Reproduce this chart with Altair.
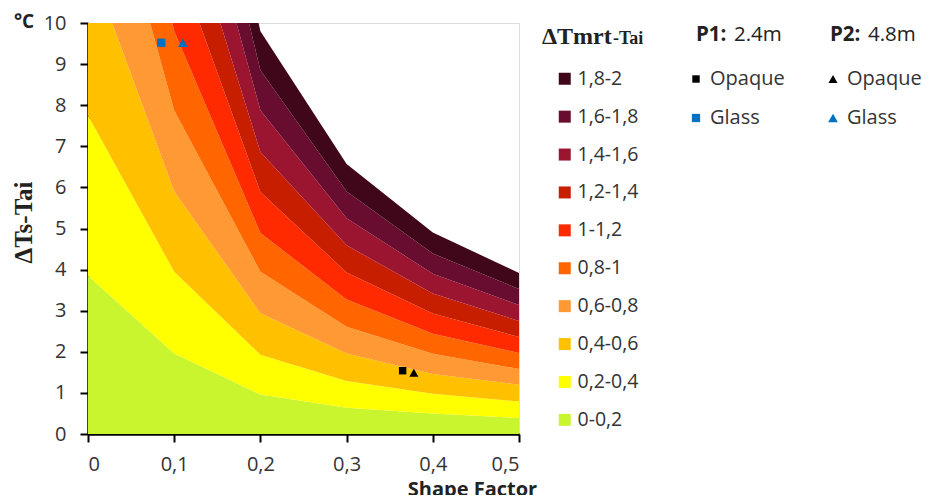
import altair as alt
import pandas as pd

# ---- data ----
SF = [0.0, 0.1, 0.2, 0.3, 0.4, 0.5]
# ΔTs-Tai at which each ΔTmrt-Tai level is reached, per shape factor
B02 = [3.85, 1.96, 0.96, 0.64, 0.50, 0.39]
B04 = [7.75, 3.95, 1.93, 1.29, 0.98, 0.79]
B06 = [11.6, 5.90, 2.94, 1.96, 1.46, 1.20]
B08 = [15.5, 7.87, 3.95, 2.61, 1.95, 1.58]
B10 = [19.3, 9.80, 4.89, 3.27, 2.44, 1.97]
B12 = [23.2, 11.7, 5.89, 3.93, 2.93, 2.36]
B14 = [27.0, 13.6, 6.86, 4.59, 3.42, 2.75]
B16 = [30.9, 15.5, 7.88, 5.25, 3.90, 3.14]
B18 = [34.8, 17.5, 8.85, 5.90, 4.39, 3.53]
B20 = [38.6, 19.4, 9.80, 6.57, 4.90, 3.92]
BASE = [0, 0, 0, 0, 0, 0]

BAND_LABELS = ["0-0,2", "0,2-0,4", "0,4-0,6", "0,6-0,8", "0,8-1",
               "1-1,2", "1,2-1,4", "1,4-1,6", "1,6-1,8", "1,8-2"]
BAND_COLORS = ["#c8f52e", "#ffff00", "#ffc000", "#ff9933", "#ff6600",
               "#ff2a00", "#c81e00", "#9b1530", "#680c30", "#40061a"]

PT_KEYS = ["P1 Opaque", "P1 Glass", "P2 Opaque", "P2 Glass"]
PT_SF = [0.365, 0.085, 0.378, 0.110]
PT_TS = [1.54, 9.52, 1.49, 9.52]
PT_SHAPES = ["square", "square", "triangle-up", "triangle-up"]
PT_COLORS = ["#000000", "#0070c0", "#000000", "#0070c0"]
PT_SIZES = [55, 95, 60, 115]

# ---- build tables ----
bounds = [BASE, B02, B04, B06, B08, B10, B12, B14, B16, B18, B20]
rows = []
for i, lab in enumerate(BAND_LABELS):
    for j, sf in enumerate(SF):
        rows.append({"band": lab, "sf": sf, "lo": bounds[i][j], "hi": bounds[i + 1][j]})
band_df = pd.DataFrame(rows)
pt_df = pd.DataFrame({"key": PT_KEYS, "sf": PT_SF, "ts": PT_TS})

FONT = "Open Sans"
SERIF = "Liberation Serif"

x_axis = alt.Axis(
    values=SF, labelExpr="datum.value == 0 ? '0' : replace(format(datum.value, '.1f'), '.', ',')",
    labelFont=FONT, labelFontSize=20, labelColor="#333333", labelPadding=12,
    domainColor="black", domainWidth=2.5, tickColor="black", tickWidth=2, tickSize=8,
    grid=False, title="Shape Factor", titleFont=FONT, titleFontSize=20, titleFontWeight="bold",
    titleColor="#222222", titleX=384, titleY=45, titleBaseline="top", titleAlign="center",
)
y_axis = alt.Axis(
    values=list(range(0, 11)), labelFont=FONT, labelFontSize=20, labelColor="#333333",
    labelPadding=14, domainColor="black", domainWidth=2.5, tickColor="black", tickWidth=2,
    tickSize=8, grid=False, title="ΔTs-Tai", titleFont=SERIF, titleFontSize=25,
    titleFontWeight="bold", titleColor="#222222", titleX=-65, titleY=199, titleAngle=270,
    titleAlign="center", titleBaseline="middle",
)

xs = alt.Scale(domain=[0, 0.5], nice=False, zero=False)
ys = alt.Scale(domain=[0, 10], nice=False, zero=False)

areas = alt.Chart(band_df).mark_area(clip=True, interpolate="linear").encode(
    x=alt.X("sf:Q", scale=xs, axis=x_axis),
    y=alt.Y("lo:Q", scale=ys, axis=y_axis, stack=None),
    y2="hi:Q",
    fill=alt.Fill("band:N", scale=alt.Scale(domain=BAND_LABELS[::-1], range=BAND_COLORS[::-1]),
                  legend=alt.Legend(title=None, orient="none", legendX=467, legendY=46,
                                    symbolType="square", symbolSize=144, symbolStrokeWidth=0,
                                    labelFont=FONT, labelFontSize=19.5, labelColor="#333333",
                                    labelOffset=3, rowPadding=16.9, padding=0)),
)

leg2 = alt.Legend(title=None, orient="none", legendX=598, legendY=46, columns=2,
                  columnPadding=38, rowPadding=19, labelFont=FONT, labelFontSize=20,
                  labelColor="#333333", labelOffset=4, symbolStrokeWidth=0, padding=0,
                  labelExpr="indexof(datum.label, 'Opaque') >= 0 ? 'Opaque' : 'Glass'")

points = alt.Chart(pt_df).mark_point(filled=True, opacity=1).encode(
    x=alt.X("sf:Q", scale=xs),
    y=alt.Y("ts:Q", scale=ys),
    shape=alt.Shape("key:N", scale=alt.Scale(domain=PT_KEYS, range=PT_SHAPES), legend=leg2),
    color=alt.Color("key:N", scale=alt.Scale(domain=PT_KEYS, range=PT_COLORS), legend=leg2),
    size=alt.Size("key:N", scale=alt.Scale(domain=PT_KEYS, range=PT_SIZES), legend=leg2),
)


def txt(s, x, y, font=FONT, size=19, weight="normal", align="left"):
    return alt.Chart(pd.DataFrame({"t": [s]})).mark_text(
        font=font, fontSize=size, fontWeight=weight, align=align, baseline="alphabetic",
        color="#222222").encode(text="t:N", x=alt.value(x), y=alt.value(y))


labels = [
    txt("°C", -64, 5, size=19, weight="bold", align="center"),
    txt("ΔTmrt", 454, 21, font=SERIF, size=24, weight="bold"),
    txt("-Tai", 525, 21, font=SERIF, size=18, weight="bold"),
    txt("P1:", 608, 18, size=20.5, weight="bold"),
    txt("2.4m", 646, 18, size=20.5),
    txt("P2:", 742, 18, size=20.5, weight="bold"),
    txt("4.8m", 780, 18, size=20.5),
]

chart = alt.layer(areas, points, *labels).properties(
    width=431, height=411,
    autosize=alt.AutoSizeParams(type="none"),
    padding={"left": 80, "top": 15, "right": 402, "bottom": 61},
).configure_view(stroke="#a6a6a6", strokeWidth=1).configure(background="white")

chart.save("out.html", embed_options={"renderer": "svg", "actions": False})
